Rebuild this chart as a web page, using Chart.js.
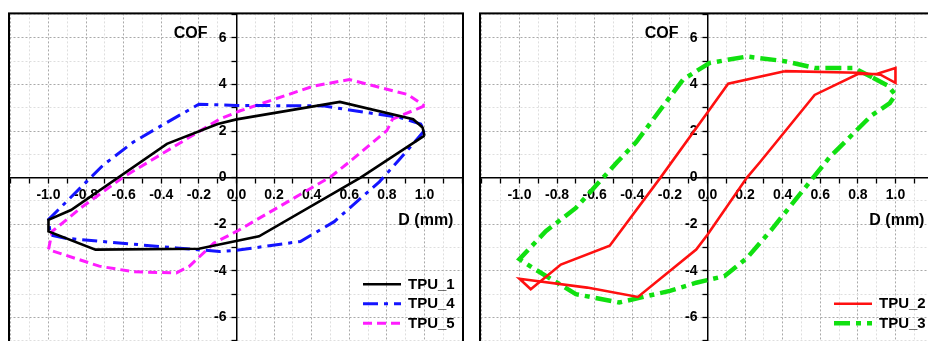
<!DOCTYPE html>
<html>
<head>
<meta charset="utf-8">
<script src="https://cdn.jsdelivr.net/npm/chart.js@4.4.0/dist/chart.umd.min.js"></script>
<style>
  html, body { margin: 0; padding: 0; background: #fff; overflow: hidden; }
  #wrap { position: relative; width: 928px; height: 341px; overflow: hidden; background: #fff; }
  .panel { position: absolute; top: 0; width: 472px; height: 380px; }
  #p1 { left: 0; }
  #p2 { left: 471px; }
</style>
</head>
<body>
<div id="wrap">
  <div class="panel" id="p1"><canvas id="c1" width="472" height="380"></canvas></div>
  <div class="panel" id="p2"><canvas id="c2" width="472" height="380"></canvas></div>
</div>
<script>
// Friction loops: COF against displacement D (mm)

// Left panel
const tpu1X = [1.00, 0.99, 0.94, 0.55, 0.00, -0.10, -0.37, -0.88, -1.00, -1.00, -0.75, -0.20, 0.12, 0.66, 1.00];
const tpu1Y = [1.80, 2.15, 2.51, 3.25, 2.50, 2.30, 1.45, -1.39, -1.81, -2.31, -3.09, -3.05, -2.52, 0.00, 1.80];

const tpu4X = [1.00, 0.87, 0.76, 0.52, 0.34, 0.00, -0.09, -0.32, -0.91, -0.99, -1.00, -0.71, -0.55, -0.37, -0.20, 0.00, 0.46, 0.87, 0.98, 1.00];
const tpu4Y = [2.02, 0.81, -0.18, -1.89, -2.74, -3.12, -3.17, -3.02, -2.60, -2.46, -1.80, 0.53, 1.52, 2.37, 3.15, 3.10, 3.08, 2.58, 2.30, 2.02];

const tpu5X = [1.00, 0.83, 0.80, 0.60, 0.50, 0.00, -0.12, -0.25, -0.32, -0.55, -0.73, -1.00, -0.98, -0.82, -0.60, -0.38, -0.09, 0.02, 0.41, 0.60, 0.91, 1.00];
const tpu5Y = [3.08, 2.51, 2.02, 0.67, 0.03, -2.31, -2.81, -3.80, -4.09, -4.04, -3.80, -3.09, -2.31, -1.25, 0.03, 1.10, 2.51, 2.87, 3.93, 4.21, 3.57, 3.08];

// Right panel
const tpu2X = [0.41, 0.80, 0.92, 1.00, 1.00, 0.90, 0.80, 0.57, 0.28, 0.21, 0.00, -0.06, -0.37, -0.64, -1.00, -0.94, -0.78, -0.52, -0.25, 0.00, 0.11, 0.41];
const tpu2Y = [4.57, 4.50, 4.42, 4.07, 4.71, 4.45, 4.45, 3.55, 0.67, 0.00, -2.45, -3.09, -5.12, -4.72, -4.34, -4.79, -3.73, -2.92, 0.00, 2.80, 4.03, 4.57];

const tpu3X = [0.88, 0.96, 1.00, 0.97, 0.87, 0.65, 0.34, 0.21, 0.09, -0.06, -0.20, -0.47, -0.70, -0.93, -1.00, -0.86, -0.70, -0.48, -0.38, -0.13, 0.01, 0.21, 0.41, 0.57, 0.78, 0.88];
const tpu3Y = [4.29, 3.95, 3.55, 3.20, 2.65, 0.88, -2.24, -3.45, -4.23, -4.51, -4.86, -5.36, -5.00, -3.87, -3.50, -2.30, -1.30, 0.67, 1.52, 4.21, 4.92, 5.20, 5.00, 4.71, 4.71, 4.29];

// Axis ranges and tick steps
const xRange = [-1.21, 1.205];
const yRange = [-8, 7.05];
const xStep = 0.1;
const yStep = 1;
const xTitle = 'D (mm)';
const yTitle = 'COF';

const FONT = '"Liberation Sans", Arial, Helvetica, sans-serif';

function pts(xs, ys) {
  return xs.map((x, i) => ({ x: x, y: ys[i] }));
}

function series(label, xs, ys, color, width, dash) {
  return {
    label: label,
    data: pts(xs, ys),
    showLine: true,
    borderColor: color,
    backgroundColor: color,
    borderWidth: width,
    borderDash: dash,
    borderCapStyle: 'butt',
    borderJoinStyle: 'miter',
    pointRadius: 0,
    tension: 0,
    fill: false
  };
}

function xLabel(v) {
  const k = Math.round(v * 10);
  return (k % 2 === 0 && Math.abs(k) <= 10) ? v.toFixed(1) : '';
}
function yLabel(v) {
  const k = Math.round(v);
  return (k % 2 === 0 && Math.abs(k) <= 6) ? String(k) : '';
}

// Crossing axes: the value axis box is moved so that its right edge sits on D = 0
// once the layout is known; then the frame, axis titles and legend are painted.
const decor = {
  id: 'decor',
  afterLayout(chart) {
    const ys = chart.scales.y;
    const x0 = chart.scales.x.getPixelForValue(0);
    ys.right = x0;
    ys.left = x0 - 80;
    ys.width = 80;
  },
  afterDraw(chart) {
    const { ctx, chartArea: a, scales: { x, y } } = chart;
    ctx.save();
    ctx.setLineDash([]);
    ctx.strokeStyle = '#000';
    ctx.lineWidth = 2;
    ctx.strokeRect(a.left, a.top, a.right - a.left, a.bottom - a.top);

    ctx.fillStyle = '#000';
    ctx.textBaseline = 'middle';
    ctx.font = 'bold 16px ' + FONT;
    ctx.textAlign = 'right';
    ctx.fillText(yTitle, x.getPixelForValue(0) - 29, y.getPixelForValue(6) - 4);
    ctx.textAlign = 'left';
    ctx.fillText(xTitle, x.getPixelForValue(0.861), y.getPixelForValue(0) + 42.5);

    const sets = chart.data.datasets;
    const rowH = 19.5;
    const lastY = a.bottom - 40.7;
    ctx.font = 'bold 15px ' + FONT;
    sets.forEach((ds, i) => {
      const yy = lastY - (sets.length - 1 - i) * rowH;
      ctx.save();
      ctx.strokeStyle = ds.borderColor;
      ctx.lineWidth = ds.borderWidth;
      ctx.lineCap = 'butt';
      ctx.setLineDash(ds.borderDash || []);
      ctx.beginPath();
      ctx.moveTo(a.right - 100, yy);
      ctx.lineTo(a.right - 62, yy);
      ctx.stroke();
      ctx.restore();
      ctx.fillStyle = '#000';
      ctx.textAlign = 'left';
      ctx.fillText(ds.label, a.right - 55, yy + 0.5);
    });
    ctx.restore();
  }
};

function options() {
  const tickFont = { family: FONT, size: 14, weight: 'bold' };
  return {
    responsive: false,
    animation: false,
    events: [],
    layout: { padding: { left: 9, right: 9, top: 10, bottom: 16 } },
    plugins: { legend: { display: false }, tooltip: { enabled: false } },
    scales: {
      x: {
        type: 'linear',
        min: xRange[0],
        max: xRange[1],
        position: { y: 0 },
        afterFit(s) { s.height = 0; },
        ticks: {
          stepSize: xStep, includeBounds: false, autoSkip: false,
          maxRotation: 0, minRotation: 0, padding: 4,
          color: '#000', font: tickFont, callback: xLabel
        },
        grid: {
          color: (c) => (Math.round(c.tick.value * 10) % 2 === 0 ? '#a9a9a9' : '#dedede'),
          lineWidth: 1, tickLength: 5, tickColor: '#000', tickWidth: 1.3
        },
        border: { color: '#000', width: 1.5, dash: [2, 2] }
      },
      y: {
        type: 'linear',
        min: yRange[0],
        max: yRange[1],
        position: 'left',
        afterFit(s) { s.width = 0; },
        ticks: {
          stepSize: yStep, includeBounds: false, autoSkip: false,
          padding: 5, color: '#000', font: tickFont, callback: yLabel
        },
        grid: {
          color: (c) => (Math.round(c.tick.value) % 2 === 0 ? '#a9a9a9' : '#dedede'),
          lineWidth: 1, tickLength: 5, tickColor: '#000', tickWidth: 1.3
        },
        border: { color: '#000', width: 1.5, dash: [2, 2] }
      }
    }
  };
}

new Chart(document.getElementById('c1'), {
  type: 'scatter',
  data: {
    datasets: [
      series('TPU_1', tpu1X, tpu1Y, '#000000', 2.6, []),
      series('TPU_4', tpu4X, tpu4Y, '#1414ff', 3, [15, 6, 4, 6]),
      series('TPU_5', tpu5X, tpu5Y, '#ff1cff', 3, [9, 5])
    ]
  },
  options: options(),
  plugins: [decor]
});

new Chart(document.getElementById('c2'), {
  type: 'scatter',
  data: {
    datasets: [
      series('TPU_2', tpu2X, tpu2Y, '#ff1010', 2.6, []),
      series('TPU_3', tpu3X, tpu3Y, '#10e010', 4.5, [16, 6, 5, 6])
    ]
  },
  options: options(),
  plugins: [decor]
});
</script>
</body>
</html>
